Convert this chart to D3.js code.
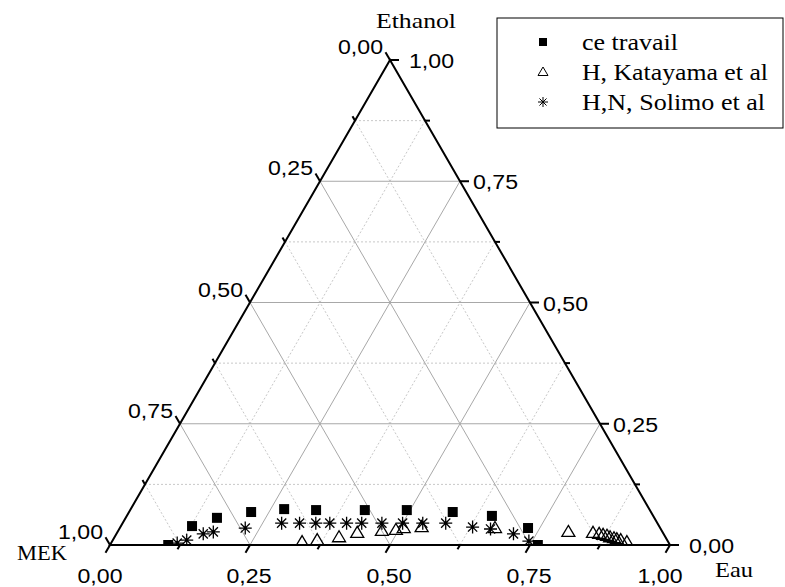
<!DOCTYPE html>
<html>
<head>
<meta charset="utf-8">
<script src="https://d3js.org/d3.v7.min.js"></script>
<style>
  body { margin: 0; background: #fff; }
  svg { display: block; }
</style>
</head>
<body>
<svg id="chart" width="785" height="587"></svg>
<script>
// ternary data, each point = [Eau, Ethanol]  (MEK = 1 - Eau - Ethanol)
var ceTravail = [
  [0.104, 0.000], [0.127, 0.039], [0.163, 0.056], [0.218, 0.068], [0.274, 0.074],
  [0.332, 0.072], [0.419, 0.072], [0.494, 0.072], [0.578, 0.068], [0.652, 0.060],
  [0.729, 0.035], [0.764, 0.000]
];
var katayama = [
  [0.340, 0.006], [0.365, 0.010], [0.401, 0.016], [0.429, 0.025], [0.471, 0.029],
  [0.495, 0.031], [0.507, 0.035], [0.538, 0.037], [0.670, 0.035], [0.805, 0.027],
  [0.850, 0.025], [0.862, 0.023], [0.870, 0.021], [0.878, 0.019], [0.885, 0.016],
  [0.893, 0.014], [0.899, 0.012], [0.907, 0.010], [0.920, 0.006]
];
var solimo = [
  [0.118, 0.004], [0.132, 0.010], [0.155, 0.023], [0.171, 0.027], [0.224, 0.035],
  [0.284, 0.045], [0.316, 0.045], [0.345, 0.045], [0.370, 0.045], [0.400, 0.045],
  [0.427, 0.045], [0.463, 0.045], [0.500, 0.045], [0.536, 0.045], [0.577, 0.045],
  [0.629, 0.037], [0.663, 0.033], [0.709, 0.023], [0.744, 0.008]
];
var majorTicks = [0, 0.25, 0.5, 0.75, 1];
var minorTicks = [0.125, 0.375, 0.625, 0.875];
var legendLabels = ["ce travail", "H, Katayama et al", "H,N, Solimo et al"];

var fmt = function(v) { return d3.format(".2f")(v).replace(".", ","); };

var svg = d3.select("#chart");

// x scale takes (Eau + Ethanol/2), y scale takes Ethanol
var x = d3.scaleLinear().domain([0, 1]).range([110, 670]);
var y = d3.scaleLinear().domain([0, 1]).range([545, 60]);
function px(e, t) { return [x(e + t / 2), y(t)]; }

var grid = svg.append("g");
function gridLine(v) {
  // constant Eau, constant Ethanol, constant MEK
  return [
    [px(v, 0), px(v, 1 - v)],
    [px(0, v), px(1 - v, v)],
    [px(1 - v, 0), px(0, 1 - v)]
  ];
}
minorTicks.forEach(function(v) {
  gridLine(v).forEach(function(s) {
    grid.append("line")
      .attr("x1", s[0][0]).attr("y1", s[0][1]).attr("x2", s[1][0]).attr("y2", s[1][1])
      .attr("stroke", "#c8c8c8").attr("stroke-width", 1).attr("stroke-dasharray", "2,2");
  });
});
[0.25, 0.5, 0.75].forEach(function(v) {
  gridLine(v).forEach(function(s) {
    grid.append("line")
      .attr("x1", s[0][0]).attr("y1", s[0][1]).attr("x2", s[1][0]).attr("y2", s[1][1])
      .attr("stroke", "#a8a8a8").attr("stroke-width", 1);
  });
});

// frame
svg.append("path")
  .attr("d", "M" + px(0, 0) + "L" + px(1, 0) + "L" + px(0, 1) + "Z")
  .attr("fill", "none").attr("stroke", "#000").attr("stroke-width", 2);

// ticks, drawn along the grid direction outside the frame
var axes = svg.append("g").attr("stroke", "#000").attr("stroke-width", 2);
var dirB = [-0.5, 0.866], dirR = [1, 0], dirL = [-0.5, -0.866];
function tick(p, d, len) {
  axes.append("line")
    .attr("x1", p[0]).attr("y1", p[1])
    .attr("x2", p[0] + d[0] * len).attr("y2", p[1] + d[1] * len);
}
majorTicks.forEach(function(v) {
  tick(px(v, 0), dirB, 9);           // Eau (bottom)
  tick(px(1 - v, v), dirR, 9);       // Ethanol (right)
  tick(px(0, 1 - v), dirL, 9);       // MEK (left)
});
minorTicks.forEach(function(v) {
  tick(px(v, 0), dirB, 5);
  tick(px(1 - v, v), dirR, 5);
  tick(px(0, 1 - v), dirL, 5);
});

// tick labels
var lab = svg.append("g")
  .attr("font-family", "'Liberation Sans', Arial, sans-serif")
  .attr("font-size", 20).attr("fill", "#000");
majorTicks.forEach(function(v) {
  var end = (v === 0 || v === 1);
  var b = px(v, 0);
  lab.append("text").attr("x", b[0] - (end ? 10 : 1)).attr("y", 583)
    .attr("text-anchor", "middle").attr("textLength", 45).attr("lengthAdjust", "spacingAndGlyphs")
    .text(fmt(v));
  var r = px(1 - v, v);
  lab.append("text").attr("x", r[0] + (end ? 19 : 13)).attr("y", r[1] + 8)
    .attr("textLength", 45).attr("lengthAdjust", "spacingAndGlyphs")
    .text(fmt(v));
  var l = px(0, 1 - v);
  lab.append("text").attr("x", l[0] - 52).attr("y", l[1] - 6)
    .attr("textLength", 45).attr("lengthAdjust", "spacingAndGlyphs")
    .text(fmt(v));
});

// axis titles
var titles = svg.append("g")
  .attr("font-family", "'Liberation Serif', 'Times New Roman', serif")
  .attr("font-size", 22).attr("fill", "#000");
titles.append("text").attr("x", 376).attr("y", 28).attr("textLength", 80)
  .attr("lengthAdjust", "spacingAndGlyphs").text("Ethanol");
titles.append("text").attr("x", 17).attr("y", 560).attr("textLength", 50)
  .attr("lengthAdjust", "spacingAndGlyphs").text("MEK");
titles.append("text").attr("x", 715).attr("y", 577).attr("textLength", 38)
  .attr("lengthAdjust", "spacingAndGlyphs").text("Eau");

// markers
svg.append("defs").append("clipPath").attr("id", "clip")
  .append("rect").attr("x", 110).attr("y", 60).attr("width", 560).attr("height", 485);

var triPath = "M0,-6.5L6.5,4.5L-6.5,4.5Z";
function starPath(r) {
  var d = "";
  for (var k = 0; k < 4; k++) {
    var a = k * Math.PI / 4;
    var cx = Math.cos(a) * r, cy = Math.sin(a) * r;
    d += "M" + (-cx) + "," + (-cy) + "L" + cx + "," + cy;
  }
  return d;
}

var plot = svg.append("g").attr("clip-path", "url(#clip)");
plot.selectAll("rect.sq").data(ceTravail).join("rect")
  .attr("class", "sq")
  .attr("x", function(d) { return px(d[0], d[1])[0] - 5; })
  .attr("y", function(d) { return px(d[0], d[1])[1] - 5; })
  .attr("width", 10).attr("height", 10).attr("fill", "#000");
plot.selectAll("path.tri").data(katayama).join("path")
  .attr("class", "tri")
  .attr("transform", function(d) { return "translate(" + px(d[0], d[1]) + ")"; })
  .attr("d", triPath).attr("fill", "none").attr("stroke", "#000").attr("stroke-width", 1.3);
plot.selectAll("path.star").data(solimo).join("path")
  .attr("class", "star")
  .attr("transform", function(d) { return "translate(" + px(d[0], d[1]) + ")"; })
  .attr("d", starPath(6.5)).attr("fill", "none").attr("stroke", "#000").attr("stroke-width", 1.3);

// legend
var leg = svg.append("g");
leg.append("rect").attr("x", 497).attr("y", 18).attr("width", 286).attr("height", 110)
  .attr("fill", "#fff").attr("stroke", "#000").attr("stroke-width", 1);
var rowY = [42, 72, 102];
leg.append("rect").attr("x", 539).attr("y", rowY[0] - 4).attr("width", 8).attr("height", 8).attr("fill", "#000");
leg.append("path").attr("transform", "translate(543," + rowY[1] + ")")
  .attr("d", "M0,-5L5,3.5L-5,3.5Z").attr("fill", "none").attr("stroke", "#000").attr("stroke-width", 1);
leg.append("path").attr("transform", "translate(543," + rowY[2] + ")")
  .attr("d", starPath(5)).attr("fill", "none").attr("stroke", "#000").attr("stroke-width", 1);
var legW = [96, 186, 183];
legendLabels.forEach(function(s, i) {
  leg.append("text").attr("x", 582).attr("y", rowY[i] + 8)
    .attr("font-family", "'Liberation Serif', 'Times New Roman', serif")
    .attr("font-size", 24).attr("textLength", legW[i]).attr("lengthAdjust", "spacingAndGlyphs")
    .text(s);
});
</script>
</body>
</html>
